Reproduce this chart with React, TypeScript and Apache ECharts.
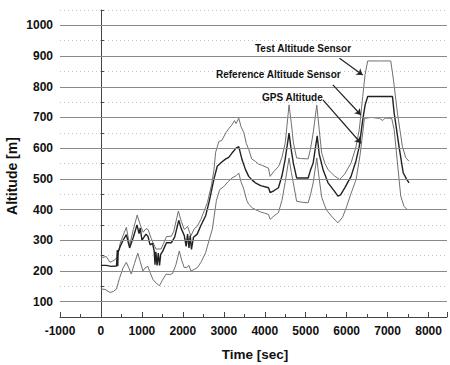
import React, { useEffect, useRef } from "react";
import * as echarts from "echarts";

const xTickLabels = [-1000, 0, 1000, 2000, 3000, 4000, 5000, 6000, 7000, 8000];
const yTickLabels = [100, 200, 300, 400, 500, 600, 700, 800, 900, 1000];

const testTime = [0,130,220,340,400,470,540,620,700,790,885,960,1030,1100,1150,1230,1345,1470,1530,1600,1720,1780,1890,1960,2035,2115,2195,2280,2350,2440,2600,2700,2760,2800,2880,2950,3050,3130,3200,3260,3300,3365,3420,3490,3550,3610,3680,3770,3850,3950,4090,4130,4230,4340,4420,4500,4593,4650,4700,4778,4900,5060,5120,5182,5270,5330,5390,5470,5545,5700,5826,5950,6107,6220,6308,6392,6450,6513,6800,7077,7143,7240,7360,7440,7522];
const testAlt = [243,247,228,236,246,290,315,342,283,335,382,350,326,338,335,305,271,272,290,312,313,330,395,362,335,345,314,338,345,368,423,480,530,586,622,625,650,665,676,690,680,698,670,650,615,595,565,557,548,543,535,508,525,541,570,617,741,680,617,568,566,565,600,649,740,660,584,550,530,510,498,515,552,600,660,768,840,884,884,884,822,714,606,570,557];

const refTime = [0,130,250,380,400,410,420,470,540,620,700,790,880,930,960,1000,1050,1100,1150,1200,1260,1300,1320,1340,1370,1400,1430,1460,1500,1560,1600,1720,1800,1900,1960,2035,2080,2115,2150,2180,2210,2260,2350,2440,2557,2650,2760,2840,2950,3050,3120,3200,3300,3365,3446,3530,3608,3700,3770,3900,4092,4133,4230,4334,4420,4496,4593,4640,4697,4778,4900,5060,5120,5182,5280,5330,5424,5545,5700,5787,5850,5950,6107,6230,6308,6392,6450,6513,6800,7119,7160,7278,7380,7460,7522];
const refAlt = [218,218,215,216,268,215,262,280,300,318,275,310,350,322,340,300,310,320,312,285,290,265,220,262,218,258,218,255,262,280,292,292,310,365,338,315,280,320,275,315,270,310,320,348,380,430,500,541,555,565,570,584,600,605,562,530,508,495,487,478,471,455,462,471,510,562,649,600,552,503,503,503,530,552,640,580,530,487,460,444,448,470,508,560,606,692,740,768,768,768,714,606,520,500,487];

const gpsTime = [0,100,218,300,380,450,540,620,680,740,820,900,960,1024,1080,1145,1200,1266,1350,1430,1500,1590,1680,1750,1830,1913,1970,2034,2100,2150,2195,2280,2355,2450,2557,2640,2720,2820,2900,3000,3100,3200,3300,3365,3420,3480,3560,3608,3700,3770,3900,4000,4092,4133,4230,4334,4420,4496,4593,4650,4697,4778,4900,5060,5120,5182,5270,5320,5390,5500,5650,5787,5900,6000,6100,6230,6330,6433,6600,6800,6880,6940,7100,7160,7240,7320,7400,7482];
const gpsAlt = [141,140,130,133,141,175,210,228,210,190,225,258,230,200,210,215,195,173,160,152,170,190,188,192,220,265,235,211,212,218,200,205,211,230,260,300,336,430,465,475,490,503,510,519,490,470,430,417,405,400,392,388,384,368,380,390,430,487,568,520,487,427,424,422,450,487,568,510,440,400,375,357,375,410,450,498,580,697,700,697,690,698,697,660,552,444,410,400];

// annotation arrows in data units: [startTime, startAlt, endTime, endAlt]
const arrowLinks = [
  [5826, 893, 6390, 838],
  [5663, 806, 6349, 708],
  [5421, 757, 6349, 616],
];

const zip = (t: number[], v: number[]) => t.map((x, i) => [x, v[i]]);

export default function App() {
  const ref = useRef<HTMLDivElement>(null);
  useEffect(() => {
    if (!ref.current) return;
    const chart = echarts.init(ref.current, null, { renderer: "svg" });
    const font = "Liberation Sans, Arial, sans-serif";
    chart.setOption({
      animation: false,
      backgroundColor: "#ffffff",
      grid: { left: 60, right: 0, top: 10, bottom: 48, containLabel: false },
      xAxis: {
        type: "value",
        min: -1000,
        max: 8450,
        interval: 1000,
        axisLine: { show: true, lineStyle: { color: "#444", width: 1 } },
        axisTick: { show: true, inside: true, length: 5, lineStyle: { color: "#444" } },
        minorTick: { show: true, splitNumber: 2, length: 3, lineStyle: { color: "#444" } },
        splitLine: { show: false },
        axisLabel: {
          color: "#111",
          fontFamily: font,
          fontWeight: "bold",
          fontSize: 12,
          margin: 8,
          formatter: (v: number) => (xTickLabels.includes(v) ? String(v) : ""),
        },
      },
      yAxis: {
        type: "value",
        min: 50,
        max: 1050,
        interval: 50,
        axisLine: { show: true, lineStyle: { color: "#444", width: 1 } },
        axisTick: { show: true, inside: true, length: 3, lineStyle: { color: "#444" } },
        splitLine: { show: true, lineStyle: { color: "#c4c4c4", type: [1, 3], width: 1 } },
        axisLabel: {
          color: "#111",
          fontFamily: font,
          fontWeight: "bold",
          fontSize: 12,
          margin: 7,
          formatter: (v: number) => (yTickLabels.includes(v) ? String(v) : ""),
        },
      },
      graphic: [
        {
          type: "text",
          x: 12,
          y: 176,
          rotation: Math.PI / 2,
          style: {
            text: "Altitude [m]",
            font: `bold 14px ${font}`,
            fill: "#111",
            textAlign: "center",
            textVerticalAlign: "middle",
          },
        },
        {
          type: "text",
          x: 255,
          y: 354,
          style: {
            text: "Time [sec]",
            font: `bold 13.5px ${font}`,
            fill: "#111",
            textAlign: "center",
            textVerticalAlign: "middle",
          },
        },
        {
          type: "text",
          x: 255,
          y: 48,
          style: { text: "Test Altitude Sensor", font: `bold 10px ${font}`, fill: "#111", textVerticalAlign: "middle" },
        },
        {
          type: "text",
          x: 216,
          y: 74,
          style: { text: "Reference Altitude Sensor", font: `bold 10px ${font}`, fill: "#111", textVerticalAlign: "middle" },
        },
        {
          type: "text",
          x: 262,
          y: 97,
          style: { text: "GPS Altitude", font: `bold 10px ${font}`, fill: "#111", textVerticalAlign: "middle" },
        },
      ],
      series: [
        {
          type: "line",
          data: [],
          z: 1,
          silent: true,
          markLine: {
            silent: true,
            symbol: ["none", "none"],
            label: { show: false },
            lineStyle: { type: "solid", color: "#8a8a8a", width: 1 },
            data: yTickLabels.map((v) => ({ yAxis: v })),
          },
        },
        {
          name: "Test Altitude Sensor",
          type: "line",
          z: 3,
          showSymbol: false,
          symbol: "none",
          data: zip(testTime, testAlt),
          lineStyle: { color: "#707070", width: 1 },
        },
        {
          name: "Reference Altitude Sensor",
          type: "line",
          z: 4,
          showSymbol: false,
          symbol: "none",
          data: zip(refTime, refAlt),
          lineStyle: { color: "#222222", width: 1.4 },
        },
        {
          name: "GPS Altitude",
          type: "line",
          z: 3,
          showSymbol: false,
          symbol: "none",
          data: zip(gpsTime, gpsAlt),
          lineStyle: { color: "#707070", width: 1 },
          markLine: {
            silent: true,
            symbol: ["none", "arrow"],
            symbolSize: 6,
            label: { show: false },
            lineStyle: { type: "solid", color: "#222", width: 1.2 },
            data: arrowLinks.map((a) => [{ coord: [a[0], a[1]] }, { coord: [a[2], a[3]] }]),
          },
        },
      ],
    });
    return () => chart.dispose();
  }, []);
  return <div ref={ref} style={{ width: 450, height: 365, position: "absolute", left: 0, top: 0 }} />;
}
